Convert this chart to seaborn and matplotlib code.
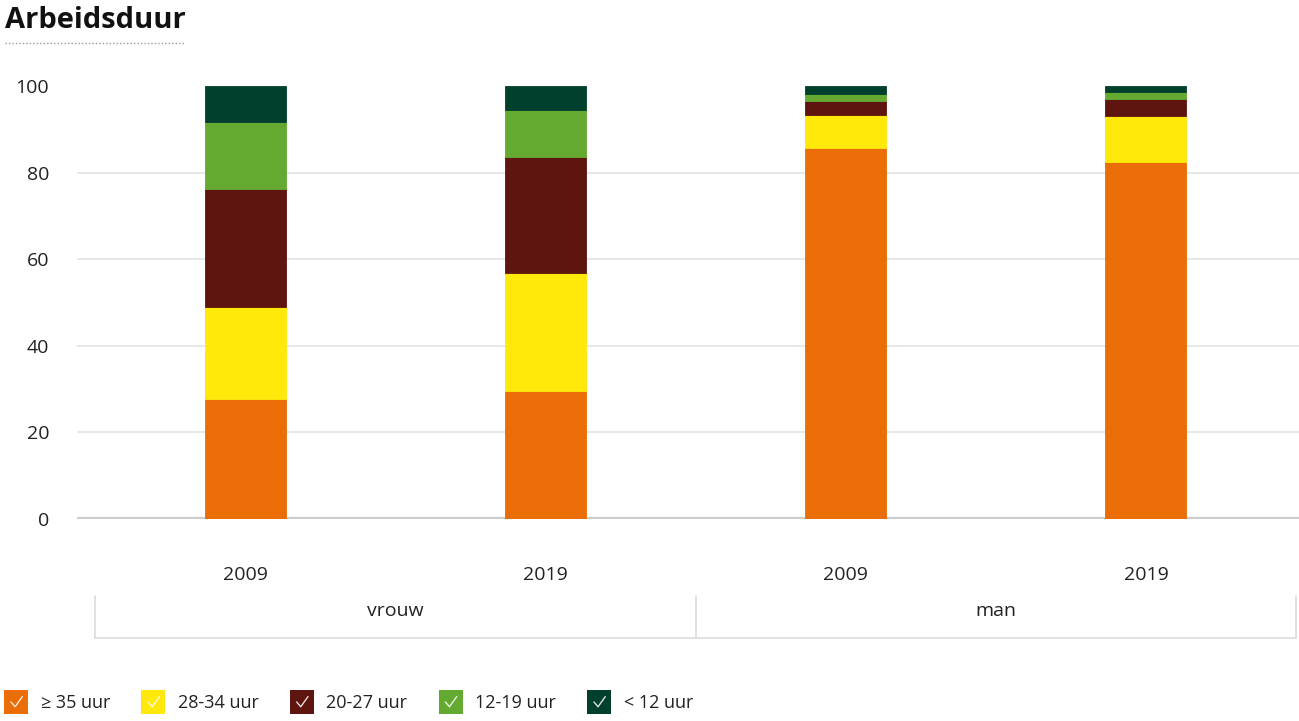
import matplotlib
matplotlib.use("Agg")
import matplotlib.pyplot as plt
import seaborn as sns
import pandas as pd
from matplotlib.patches import Rectangle
from matplotlib.lines import Line2D
from matplotlib.legend_handler import HandlerPatch

# =========================
# Data
# =========================
bars = ["vrouw 2009", "vrouw 2019", "man 2009", "man 2019"]
years = ["2009", "2019", "2009", "2019"]
groups = ["vrouw", "man"]
series = ["≥ 35 uur", "28-34 uur", "20-27 uur", "12-19 uur", "< 12 uur"]
uur_35_plus = [27.6, 29.6, 85.7, 82.5]
uur_28_34 = [21.4, 27.2, 7.7, 10.5]
uur_20_27 = [27.2, 26.9, 3.2, 4.0]
uur_12_19 = [15.4, 10.7, 1.5, 1.5]
uur_lt_12 = [8.4, 5.6, 1.9, 1.5]
colors = ["#EA6D07", "#FFE90A", "#5E1510", "#64A930", "#01402C"]


class CheckHandler(HandlerPatch):
    # square with white check mark, like the legend of the original
    def create_artists(self, legend, orig_handle, xdescent, ydescent,
                       width, height, fontsize, trans):
        s = height * 1.5
        x0 = -xdescent + (width - s) / 2
        y0 = -ydescent + (height - s) / 2
        sq = Rectangle((x0, y0), s, s, facecolor=orig_handle.get_facecolor(),
                       edgecolor="none", transform=trans)
        ck = Line2D([x0 + s * 0.28, x0 + s * 0.45, x0 + s * 0.75],
                    [y0 + s * 0.5, y0 + s * 0.3, y0 + s * 0.72],
                    color="white", lw=1.0, alpha=0.85, transform=trans)
        return [sq, ck]


def plot_arbeidsduur():
    sns.set_theme(style="white")
    plt.rcParams["font.family"] = ["Open Sans", "DejaVu Sans"]

    fig = plt.figure(figsize=(12.99, 7.21), dpi=100)
    ax = fig.add_axes([0.0593, 0.2802, 0.9407, 0.6006])

    values = [uur_35_plus, uur_28_34, uur_20_27, uur_12_19, uur_lt_12]
    bottom = [0, 0, 0, 0]
    for name, vals, col in zip(series, values, colors):
        df = pd.DataFrame({"bar": bars, "waarde": vals})
        sns.barplot(data=df, x="bar", y="waarde", order=bars, color=col,
                    bottom=bottom, width=0.27, saturation=1, ax=ax,
                    edgecolor=col, linewidth=0.6, zorder=2)
        bottom = [b + v for b, v in zip(bottom, vals)]

    ax.set_ylim(0, 100)
    ax.set_xlim(-0.56, 3.51)
    ax.set_yticks([0, 20, 40, 60, 80, 100])
    ax.yaxis.grid(True, color="#e3e3e3", linewidth=1.2)
    ax.yaxis.get_gridlines()[-1].set_visible(False)
    ax.set_axisbelow(True)
    sns.despine(ax=ax, left=True, top=True, right=True, bottom=True)
    ax.axhline(0, color="#cccccc", linewidth=3, zorder=1)

    ax.set_xticks(range(len(bars)))
    ax.set_xticklabels(years)
    ax.tick_params(axis="x", length=0, pad=34, labelsize=14, labelcolor="#222222")
    ax.tick_params(axis="y", length=0, pad=20, labelsize=14, labelcolor="#222222")
    ax.set_xlabel("")
    ax.set_ylabel("")

    # group boxes under the years
    tr = ax.get_xaxis_transform()
    box_col = "#dcdcdc"
    for xv in [-0.5, 1.5, 3.5]:
        ax.plot([xv, xv], [-0.178, -0.275], color=box_col, lw=1.2,
                transform=tr, clip_on=False)
    ax.plot([-0.5, 3.5], [-0.275, -0.275], color=box_col, lw=1.2,
            transform=tr, clip_on=False)
    for i, g in enumerate(groups):
        ax.text(0.5 + 2 * i, -0.2125, g, transform=tr, ha="center", va="center",
                fontsize=14, color="#222222")

    # title with dotted underline
    fig.text(0.004, 0.972, "Arbeidsduur", fontsize=21, fontweight="bold",
             color="#111111", ha="left", va="center")
    fig.add_artist(Line2D([0.004, 0.142], [0.94, 0.94], color="#999999",
                          lw=1, linestyle=(0, (1, 1.5))))

    handles = [Rectangle((0, 0), 1, 1, facecolor=c) for c in colors]
    fig.legend(handles, series, loc="center left", bbox_to_anchor=(-0.009, 0.025),
               ncol=5, frameon=False, fontsize=13, handlelength=1.3,
               handleheight=1.0, handletextpad=0.7, columnspacing=1.75,
               handler_map={Rectangle: CheckHandler()}, labelcolor="#222222")

    fig.savefig("out.png", dpi=100)


if __name__ == "__main__":
    plot_arbeidsduur()
